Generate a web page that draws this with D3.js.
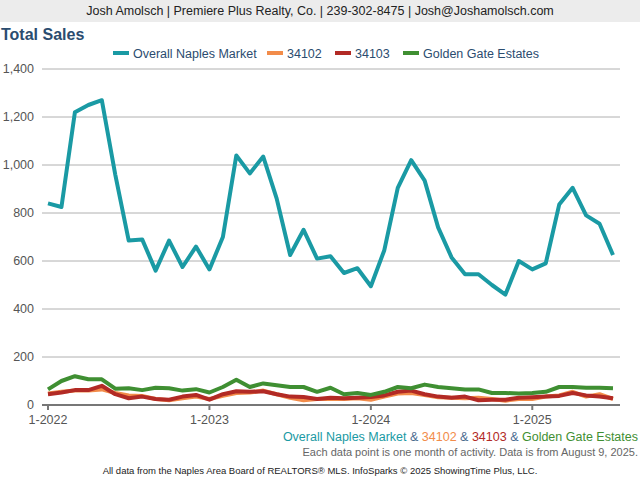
<!DOCTYPE html>
<html><head><meta charset="utf-8">
<script src="https://cdn.jsdelivr.net/npm/d3@7"></script>
<style>body{margin:0;background:#fff;font-family:"Liberation Sans",Arial,sans-serif}</style>
</head><body><svg id="chart" width="640" height="480"></svg>
<script>
const seriesNames = ["Overall Naples Market", "34102", "34103", "Golden Gate Estates"];
const colors = ["#1a9aa4", "#f28c4a", "#b22a25", "#3f8f32"];
const overall = [840,825,1220,1250,1270,960,685,690,560,685,575,660,565,700,1040,965,1035,860,625,730,610,620,550,570,495,645,905,1020,935,740,615,545,545,500,460,600,565,590,835,905,790,755,625];
const z34102 = [48,55,60,60,65,50,40,38,25,20,28,35,25,38,50,52,60,45,30,20,25,25,25,28,22,35,48,50,42,32,30,28,30,25,18,25,25,35,40,55,35,45,25];
const z34103 = [45,52,62,62,80,45,28,35,25,22,35,42,22,45,57,55,57,45,35,33,25,30,28,30,33,40,55,60,45,35,30,35,20,22,22,30,32,35,38,50,40,35,28];
const golden = [65,100,120,107,107,68,70,62,72,70,60,66,52,75,105,75,90,82,75,75,55,72,45,50,42,55,75,70,85,75,70,65,65,50,50,48,50,55,75,75,72,72,70];
const yTicks = [0,200,400,600,800,1000,1200,1400];
const xTickLabels = ["1-2022","1-2023","1-2024","1-2025"];

const svg = d3.select("#chart");
const data = [overall, z34102, z34103, golden];

// header band
svg.append("rect").attr("width",640).attr("height",22).attr("fill","#ececec");
svg.append("text").attr("x",320).attr("y",15).attr("text-anchor","middle")
  .attr("font-size","12.5px").attr("fill","#222")
  .text("Josh Amolsch | Premiere Plus Realty, Co. | 239-302-8475 | Josh@Joshamolsch.com");
svg.append("text").attr("x",1).attr("y",40).attr("font-size","16px").attr("font-weight","bold")
  .attr("fill","#2b4c6f").text("Total Sales");

const x = d3.scaleLinear().domain([0,42]).range([48,613]);
const y = d3.scaleLinear().domain([0,1400]).range([405,69]);

svg.selectAll(".grid").data(yTicks.slice(1)).join("line")
  .attr("x1",42).attr("x2",620).attr("y1",d=>y(d)).attr("y2",d=>y(d))
  .attr("stroke","#b0b0b0").attr("stroke-width",1);
svg.selectAll(".ylab").data(yTicks).join("text")
  .attr("x",34).attr("y",d=>y(d)+4).attr("text-anchor","end")
  .attr("font-size","12.5px").attr("fill","#555").text(d=>d3.format(",")(d));

svg.append("line").attr("x1",42).attr("x2",620).attr("y1",405).attr("y2",405)
  .attr("stroke","#777").attr("stroke-width",2);
xTickLabels.forEach((t,i)=>{
  svg.append("line").attr("x1",x(i*12)).attr("x2",x(i*12)).attr("y1",405).attr("y2",410)
    .attr("stroke","#777").attr("stroke-width",2);
  svg.append("text").attr("x",x(i*12)).attr("y",424).attr("text-anchor","middle")
    .attr("font-size","12.5px").attr("fill","#555").text(t);
});

const line = d3.line().x((d,i)=>x(i)).y(d=>y(d));
[1,2,3,0].forEach(k=>{
  svg.append("path").attr("d",line(data[k])).attr("fill","none")
    .attr("stroke",colors[k]).attr("stroke-width",k===0?4:4).attr("stroke-linejoin","round");
});

// top legend
const legX = [113,267,335,403];
seriesNames.forEach((n,i)=>{
  svg.append("rect").attr("x",legX[i]).attr("y",51).attr("width",16).attr("height",4).attr("fill",colors[i]);
  svg.append("text").attr("x",legX[i]+20).attr("y",58).attr("font-size","12.5px")
    .attr("fill","#2b4c6f").text(n);
});

// bottom legend
const bt = svg.append("text").attr("x",638).attr("y",441).attr("text-anchor","end").attr("font-size","12.5px");
seriesNames.forEach((n,i)=>{
  bt.append("tspan").attr("fill",colors[i]).text(n);
  if(i<3) bt.append("tspan").attr("fill","#4a6a8f").text(" & ");
});
svg.append("text").attr("x",638).attr("y",456).attr("text-anchor","end").attr("font-size","11px")
  .attr("fill","#666").text("Each data point is one month of activity. Data is from August 9, 2025.");
svg.append("text").attr("x",320).attr("y",474).attr("text-anchor","middle").attr("font-size","9.5px")
  .attr("fill","#222").text("All data from the Naples Area Board of REALTORS® MLS. InfoSparks © 2025 ShowingTime Plus, LLC.");
</script></body></html>
